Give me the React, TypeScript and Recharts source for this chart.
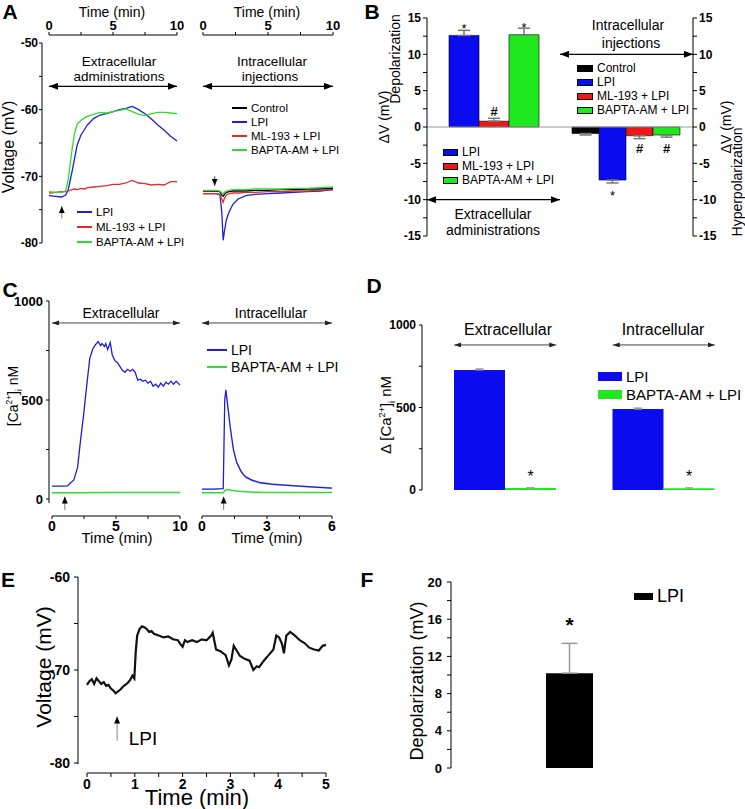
import {
  LineChart, Line, ComposedChart, Area, BarChart, Bar, ErrorBar, LabelList,
  XAxis, YAxis, ReferenceLine, Legend,
} from 'recharts'

const FONT = '"Liberation Sans", Arial, Helvetica, sans-serif'
const BLUE = '#1e1ed2'
const RED = '#e32b2b'
const GREEN = '#2fdc2f'
const BAR_BLUE = '#0b0bf0'
const BAR_RED = '#ee1616'
const BAR_GREEN = '#1fe81f'

// A: membrane potential, extracellular administration (mV vs min)
const aExtTime = [0, 0.5, 1, 1.3, 1.5, 1.8, 2, 2.2, 2.5, 2.8, 3, 3.5, 4, 4.5, 5, 5.5, 6, 6.5, 7, 7.5, 8, 8.5, 9, 9.5, 10]
const aExtLpi = [-72.9, -73.0, -73.1, -72.8, -72.0, -69.3, -67.3, -65.3, -63.8, -62.9, -62.3, -61.3, -60.8, -60.6, -60.3, -60.0, -59.8, -59.5, -60.0, -60.6, -61.4, -62.3, -63.1, -64.0, -64.7]
const aExtMl = [-72.5, -72.4, -72.3, -72.3, -72.2, -72.0, -71.9, -72.0, -71.8, -71.9, -71.7, -71.6, -71.5, -71.4, -71.2, -71.2, -71.0, -70.6, -71.0, -71.1, -71.3, -71.2, -71.3, -70.8, -70.8]
const aExtBapta = [-72.3, -72.4, -72.4, -72.2, -70.5, -66.0, -63.5, -62.2, -61.6, -61.2, -61.0, -60.7, -60.4, -60.5, -60.3, -60.1, -59.9, -60.3, -60.7, -60.9, -60.6, -60.4, -60.4, -60.5, -60.6]

// A: intracellular injection
const aIntTime = [0, 0.5, 1, 1.3, 1.45, 1.55, 1.65, 1.8, 2, 2.3, 2.7, 3.3, 4, 5, 6, 7, 8, 9, 10]
const aIntControl = [-72.2, -72.2, -72.2, -72.3, -72.8, -73.0, -72.7, -72.4, -72.3, -72.2, -72.2, -72.2, -72.1, -72.1, -72.0, -72.0, -71.9, -71.9, -71.8]
const aIntLpi = [-72.6, -72.6, -72.6, -72.7, -75.5, -79.6, -78.2, -76.5, -75.4, -74.2, -73.4, -72.9, -72.7, -72.6, -72.5, -72.4, -72.3, -72.2, -72.0]
const aIntMl = [-72.6, -72.6, -72.6, -72.8, -73.4, -73.9, -73.3, -72.8, -72.6, -72.5, -72.5, -72.4, -72.4, -72.3, -72.3, -72.2, -72.2, -72.1, -72.0]
const aIntBapta = [-72.1, -72.1, -72.1, -72.2, -72.5, -72.6, -72.4, -72.2, -72.1, -72.0, -72.0, -72.0, -71.9, -71.9, -71.9, -71.8, -71.8, -71.7, -71.6]

// B: mean voltage change (mV)
const bGroups = ['Extracellular administrations', 'Intracellular injections']
const bControl = [null, -0.9]
const bControlErr = [null, 0.2]
const bLpi = [12.6, -7.3]
const bLpiErr = [0.7, 0.4]
const bMl = [0.8, -1.2]
const bMlErr = [0.4, 0.4]
const bBapta = [12.7, -1.1]
const bBaptaErr = [0.9, 0.3]
const bLpiMark = ['*', '*']
const bMlMark = ['#', '#']
const bBaptaMark = ['*', '#']

// C: calcium (nM vs min)
const cExtTime = [0, 0.5, 1, 1.2, 1.5, 1.7, 2, 2.2, 2.45, 2.7, 2.95, 3.2, 3.4, 3.6, 3.8, 3.9, 4.1, 4.2, 4.35, 4.55, 4.7, 4.9, 5.1, 5.3, 5.5, 5.7, 5.9, 6.1, 6.3, 6.5, 6.7, 6.9, 7.1, 7.3, 7.5, 7.7, 7.9, 8.1, 8.3, 8.5, 8.7, 8.9, 9.1, 9.3, 9.5, 9.7, 9.85, 10]
const cExtLpi = [65, 65, 65, 66, 85, 95, 160, 280, 415, 565, 710, 760, 780, 795, 775, 785, 770, 785, 755, 790, 730, 700, 690, 670, 650, 640, 655, 645, 655, 640, 600, 605, 595, 600, 585, 595, 570, 580, 565, 585, 570, 590, 580, 595, 580, 595, 585, 575]
const cExtBaptaTime = [0, 2, 4, 6, 8, 10]
const cExtBapta = [32, 32, 33, 33, 33, 33]
const cIntTime = [0, 0.5, 0.98, 1.05, 1.1, 1.2, 1.3, 1.45, 1.6, 1.8, 2, 2.3, 2.7, 3.2, 3.8, 4.5, 5.2, 6]
const cIntLpi = [50, 50, 52, 500, 550, 460, 365, 250, 185, 140, 112, 95, 82, 75, 70, 65, 60, 55]
const cIntLpiSem = [2, 2, 2, 15, 20, 18, 15, 12, 10, 8, 7, 6, 5, 5, 4, 4, 4, 4]
const cIntBaptaTime = [0, 0.5, 0.98, 1.05, 1.15, 1.3, 1.6, 2, 2.5, 3, 4, 5, 6]
const cIntBapta = [32, 32, 32, 42, 48, 45, 40, 36, 34, 33, 33, 33, 33]

// D: peak calcium change (nM)
const dConds = ['Extracellular', 'Intracellular']
const dLpi = [728, 491]
const dLpiErr = [5, 5]
const dBapta = [12, 10]
const dBaptaErr = [2, 2]
const dMark = ['*', '*']

// E: single recording (mV vs min)
const eTime = [0, 0.05, 0.1, 0.15, 0.2, 0.25, 0.3, 0.35, 0.4, 0.45, 0.5, 0.55, 0.6, 0.65, 0.7, 0.75, 0.8, 0.85, 0.9, 0.95, 0.99, 1.02, 1.05, 1.1, 1.15, 1.2, 1.25, 1.3, 1.35, 1.4, 1.5, 1.6, 1.7, 1.8, 1.9, 1.95, 2, 2.05, 2.1, 2.2, 2.3, 2.4, 2.5, 2.6, 2.63, 2.7, 2.8, 2.9, 2.97, 3.02, 3.07, 3.13, 3.2, 3.3, 3.4, 3.48, 3.55, 3.6, 3.7, 3.8, 3.9, 3.96, 4.02, 4.08, 4.12, 4.17, 4.25, 4.35, 4.45, 4.55, 4.65, 4.75, 4.85, 4.93, 5]
const eVolt = [-71.6, -71.2, -71.0, -71.5, -70.9, -71.2, -71.5, -71.3, -71.7, -71.6, -72.0, -72.2, -72.5, -72.3, -72.1, -71.8, -71.6, -71.4, -71.1, -70.6, -70.9, -68.0, -66.3, -65.6, -65.3, -65.4, -65.6, -65.9, -65.8, -66.1, -66.3, -66.5, -66.4, -66.7, -66.8, -67.2, -67.5, -66.8, -67.0, -66.8, -67.0, -66.7, -66.8, -66.3, -66.0, -67.8, -68.0, -68.4, -69.5, -68.9, -67.4, -67.9, -68.5, -68.8, -69.0, -70.0, -69.6, -69.7, -69.0, -68.4, -67.8, -66.3, -66.5, -67.2, -68.2, -66.3, -65.9, -66.3, -66.8, -67.1, -67.6, -67.8, -67.9, -67.4, -67.3]

// F: mean depolarization (mV)
const fConds = ['LPI']
const fDep = [10.2]
const fErr = [3.2]
const fMark = ['*']

const errOut = (v: number | null, e: number | null) =>
  v === null || e === null ? null : v >= 0 ? [0, e] : [e, 0]

const aExtRows = aExtTime.map((t, i) => ({ t, lpi: aExtLpi[i], ml: aExtMl[i], bapta: aExtBapta[i] }))
const aIntRows = aIntTime.map((t, i) => ({ t, control: aIntControl[i], lpi: aIntLpi[i], ml: aIntMl[i], bapta: aIntBapta[i] }))
const bRows = bGroups.map((group, i) => ({
  group,
  control: bControl[i], controlErr: errOut(bControl[i], bControlErr[i]),
  lpi: bLpi[i], lpiErr: errOut(bLpi[i], bLpiErr[i]), lpiMark: bLpiMark[i],
  ml: bMl[i], mlErr: errOut(bMl[i], bMlErr[i]), mlMark: bMlMark[i],
  bapta: bBapta[i], baptaErr: errOut(bBapta[i], bBaptaErr[i]), baptaMark: bBaptaMark[i],
}))
const cExtRows = cExtTime.map((t, i) => ({ t, lpi: cExtLpi[i] }))
const cExtBaptaRows = cExtBaptaTime.map((t, i) => ({ t, bapta: cExtBapta[i] }))
const cIntRows = cIntTime.map((t, i) => ({ t, lpi: cIntLpi[i], band: [cIntLpi[i] - cIntLpiSem[i], cIntLpi[i] + cIntLpiSem[i]] }))
const cIntBaptaRows = cIntBaptaTime.map((t, i) => ({ t, bapta: cIntBapta[i] }))
const dRows = dConds.map((cond, i) => ({
  cond, lpi: dLpi[i], lpiErr: [0, dLpiErr[i]], bapta: dBapta[i], baptaErr: [0, dBaptaErr[i]], mark: dMark[i],
}))
const eRows = eTime.map((t, i) => ({ t, v: eVolt[i] }))
const fRows = fConds.map((cond, i) => ({ cond, dep: fDep[i], depErr: [0, fErr[i]], mark: fMark[i] }))

const ORDER_4 = ['Control', 'LPI', 'ML-193 + LPI', 'BAPTA-AM + LPI']

function majorOnly(step: number) {
  return (v: number) => (Math.abs(v % step) < 1e-6 ? String(v) : '')
}

function boldTick(size: number) {
  return { fontSize: size, fontWeight: 700, fill: '#000' }
}

function keyLegend(size: number, row: number, sw: number, bar?: { h: number; border?: boolean }) {
  return (props: any) => {
    const items = (props.payload || [])
      .filter((e: any) => ORDER_4.includes(e.value))
      .sort((a: any, b: any) => ORDER_4.indexOf(a.value) - ORDER_4.indexOf(b.value))
    return (
      <div style={{ fontSize: size, color: '#000', whiteSpace: 'nowrap', fontFamily: FONT }}>
        {items.map((e: any) => (
          <div key={e.value} style={{ display: 'flex', alignItems: 'center', height: row }}>
            <span style={{
              width: sw, height: bar ? bar.h : 2, background: e.color,
              border: bar && bar.border ? '1px solid #000' : 'none', boxSizing: 'border-box', marginRight: 4, flexShrink: 0,
            }} />
            <span>{e.value}</span>
          </div>
        ))}
      </div>
    )
  }
}

// double-headed arrow spread around a category centre
function bandArrow(half: number) {
  return (p: any) => (
    <line x1={p.x1 - half} y1={p.y1} x2={p.x2 + half} y2={p.y2} stroke="#444" strokeWidth={1}
      markerStart="url(#hSmall)" markerEnd="url(#hSmall)" />
  )
}

function Txt({ x, y, size = 14, bold, rot, children }: any) {
  return (
    <div style={{
      position: 'absolute', left: x, top: y, fontSize: size, fontWeight: bold ? 700 : 400, lineHeight: 1,
      whiteSpace: 'nowrap', transform: `translate(-50%, -50%)${rot ? ' rotate(-90deg)' : ''}`,
    }}>
      {children}
    </div>
  )
}

const legendPos = (left: number, top: number) => ({ left, top, width: 'auto' })

function App() {
  return (
    <div style={{ position: 'absolute', left: 0, top: 0, width: 745, height: 809, overflow: 'hidden', background: '#fff', fontFamily: FONT, color: '#000' }}>
      <svg width={0} height={0} style={{ position: 'absolute' }}>
        <defs>
          <marker id="hBig" viewBox="0 0 10 10" refX="10" refY="5" markerWidth="9" markerHeight="7" markerUnits="userSpaceOnUse" orient="auto-start-reverse" preserveAspectRatio="none">
            <path d="M0,0L10,5L0,10z" fill="#000" />
          </marker>
          <marker id="hSmall" viewBox="0 0 10 10" refX="10" refY="5" markerWidth="7" markerHeight="5" markerUnits="userSpaceOnUse" orient="auto-start-reverse" preserveAspectRatio="none">
            <path d="M0,0L10,5L0,10z" fill="#222" />
          </marker>
          <marker id="hUp" viewBox="0 0 10 10" refX="10" refY="5" markerWidth="7" markerHeight="6" markerUnits="userSpaceOnUse" orient="auto" preserveAspectRatio="none">
            <path d="M0,0L10,5L0,10z" fill="#000" />
          </marker>
        </defs>
      </svg>

      {/* A, extracellular */}
      <div style={{ position: 'absolute', left: 0, top: 0 }}>
        <LineChart width={185} height={250} data={aExtRows} margin={{ top: 5, right: 8, bottom: 7, left: 2 }}>
          <XAxis dataKey="t" type="number" orientation="top" domain={[0, 10]} ticks={[0, 2.5, 5, 7.5, 10]} interval={0}
            tickFormatter={majorOnly(5)} padding={{ left: 7, right: 0 }} height={30} stroke="#000"
            axisLine={{ stroke: '#000', strokeDasharray: '0 7 400' }} tickSize={3} tickMargin={2} tick={boldTick(13)} />
          <YAxis type="number" domain={[-80, -50]} ticks={[-80, -75, -70, -65, -60, -55, -50]} interval={0}
            tickFormatter={majorOnly(10)} padding={{ top: 8, bottom: 0 }} width={40} stroke="#000"
            axisLine={{ stroke: '#000', strokeDasharray: '0 8 400' }} tickSize={3} tickMargin={1} tick={boldTick(12)} />
          <ReferenceLine segment={[{ x: 0, y: -56.5 }, { x: 10, y: -56.5 }]} stroke="#000" strokeWidth={1.2} markerStart="url(#hBig)" markerEnd="url(#hBig)" ifOverflow="visible" />
          <ReferenceLine segment={[{ x: 1, y: -76.3 }, { x: 1, y: -74.5 }]} stroke="#777" markerEnd="url(#hUp)" ifOverflow="visible" />
          <Line dataKey="lpi" name="LPI" stroke={BLUE} strokeWidth={1.3} dot={false} isAnimationActive={false} />
          <Line dataKey="ml" name="ML-193 + LPI" stroke={RED} strokeWidth={1.3} dot={false} isAnimationActive={false} />
          <Line dataKey="bapta" name="BAPTA-AM + LPI" stroke={GREEN} strokeWidth={1.3} dot={false} isAnimationActive={false} />
          <Legend layout="vertical" align="center" verticalAlign="middle" wrapperStyle={legendPos(77, 204)} content={keyLegend(11.5, 15, 15)} />
        </LineChart>
      </div>

      {/* A, intracellular */}
      <div style={{ position: 'absolute', left: 185, top: 0 }}>
        <LineChart width={155} height={250} data={aIntRows} margin={{ top: 5, right: 7, bottom: 7, left: 18 }}>
          <XAxis dataKey="t" type="number" orientation="top" domain={[0, 10]} ticks={[0, 2.5, 5, 7.5, 10]} interval={0}
            tickFormatter={majorOnly(5)} height={30} stroke="#000" tickSize={3} tickMargin={2} tick={boldTick(13)} />
          <YAxis type="number" domain={[-80, -50]} padding={{ top: 8, bottom: 0 }} hide />
          <ReferenceLine segment={[{ x: 0, y: -56.5 }, { x: 10, y: -56.5 }]} stroke="#000" strokeWidth={1.2} markerStart="url(#hBig)" markerEnd="url(#hBig)" ifOverflow="visible" />
          <ReferenceLine segment={[{ x: 0.9, y: -70.0 }, { x: 0.9, y: -71.4 }]} stroke="#333" markerEnd="url(#hUp)" ifOverflow="visible" />
          <Line dataKey="control" name="Control" stroke="#000" strokeWidth={1.3} dot={false} isAnimationActive={false} />
          <Line dataKey="lpi" name="LPI" stroke={BLUE} strokeWidth={1.3} dot={false} isAnimationActive={false} />
          <Line dataKey="ml" name="ML-193 + LPI" stroke={RED} strokeWidth={1.3} dot={false} isAnimationActive={false} />
          <Line dataKey="bapta" name="BAPTA-AM + LPI" stroke={GREEN} strokeWidth={1.3} dot={false} isAnimationActive={false} />
          <Legend layout="vertical" align="center" verticalAlign="middle" wrapperStyle={legendPos(47, 101)} content={keyLegend(11.5, 14, 15)} />
        </LineChart>
      </div>

      {/* B, extracellular bars */}
      <div style={{ position: 'absolute', left: 380, top: 0 }}>
        <BarChart width={185} height={250} data={[bRows[0]]} margin={{ top: 18, right: 5, bottom: 14, left: 7 }} barCategoryGap={22} barGap={0}>
          <XAxis dataKey="group" hide />
          <YAxis type="number" domain={[-15, 15]} ticks={[-15, -12.5, -10, -7.5, -5, -2.5, 0, 2.5, 5, 7.5, 10, 12.5, 15]} interval={0}
            tickFormatter={majorOnly(5)} width={40} stroke="#000" tickSize={4} tickMargin={2} tick={boldTick(12)} />
          <YAxis yAxisId="sep" orientation="right" type="number" domain={[-15, 15]} width={0} tick={false} tickLine={false} axisLine={{ stroke: '#aaa' }} />
          <ReferenceLine y={0} stroke="#999" />
          <ReferenceLine y={-10} stroke="#000" strokeWidth={1.2} markerStart="url(#hBig)" markerEnd="url(#hBig)" />
          <Bar dataKey="lpi" name="LPI" fill={BAR_BLUE} stroke="#000" strokeWidth={0.6} isAnimationActive={false}>
            <ErrorBar dataKey="lpiErr" width={6} stroke="#777" />
            <LabelList dataKey="lpiMark" position="top" offset={2.5} fill="#000" fontSize={13} />
          </Bar>
          <Bar dataKey="ml" name="ML-193 + LPI" fill={BAR_RED} stroke="#000" strokeWidth={0.6} isAnimationActive={false}>
            <ErrorBar dataKey="mlErr" width={6} stroke="#777" />
            <LabelList dataKey="mlMark" position="top" offset={5.5} fill="#000" fontSize={13} fontWeight={700} />
          </Bar>
          <Bar dataKey="bapta" name="BAPTA-AM + LPI" fill={BAR_GREEN} stroke="#000" strokeWidth={0.6} isAnimationActive={false}>
            <ErrorBar dataKey="baptaErr" width={6} stroke="#777" />
            <LabelList dataKey="baptaMark" position="top" offset={3} fill="#000" fontSize={13} />
          </Bar>
          <Legend layout="vertical" align="center" verticalAlign="middle" wrapperStyle={legendPos(63, 145)} content={keyLegend(12, 14, 15, { h: 7, border: true })} />
        </BarChart>
      </div>

      {/* B, intracellular bars */}
      <div style={{ position: 'absolute', left: 555, top: 0 }}>
        <BarChart width={190} height={250} data={[bRows[1]]} margin={{ top: 18, right: 12, bottom: 14, left: 5 }} barCategoryGap={12} barGap={0}>
          <XAxis dataKey="group" hide />
          <YAxis orientation="right" type="number" domain={[-15, 15]} ticks={[-15, -12.5, -10, -7.5, -5, -2.5, 0, 2.5, 5, 7.5, 10, 12.5, 15]} interval={0}
            tickFormatter={majorOnly(5)} width={40} stroke="#000" tickSize={4} tickMargin={2} tick={boldTick(12)} />
          <ReferenceLine y={0} stroke="#999" />
          <ReferenceLine y={10} stroke="#000" strokeWidth={1.2} markerStart="url(#hBig)" markerEnd="url(#hBig)" />
          <Bar dataKey="control" name="Control" fill="#000" stroke="#000" strokeWidth={0.6} isAnimationActive={false}>
            <ErrorBar dataKey="controlErr" width={6} stroke="#777" />
          </Bar>
          <Bar dataKey="lpi" name="LPI" fill={BAR_BLUE} stroke="#000" strokeWidth={0.6} isAnimationActive={false}>
            <ErrorBar dataKey="lpiErr" width={6} stroke="#777" />
            <LabelList dataKey="lpiMark" position="top" offset={11} fill="#000" fontSize={13} />
          </Bar>
          <Bar dataKey="ml" name="ML-193 + LPI" fill={BAR_RED} stroke="#000" strokeWidth={0.6} isAnimationActive={false}>
            <ErrorBar dataKey="mlErr" width={6} stroke="#777" />
            <LabelList dataKey="mlMark" position="top" offset={8.5} fill="#000" fontSize={13} fontWeight={700} />
          </Bar>
          <Bar dataKey="bapta" name="BAPTA-AM + LPI" fill={BAR_GREEN} stroke="#000" strokeWidth={0.6} isAnimationActive={false}>
            <ErrorBar dataKey="baptaErr" width={6} stroke="#777" />
            <LabelList dataKey="baptaMark" position="top" offset={9} fill="#000" fontSize={13} fontWeight={700} />
          </Bar>
          <Legend layout="vertical" align="center" verticalAlign="middle" wrapperStyle={legendPos(22, 61)} content={keyLegend(12, 14, 16, { h: 7, border: true })} />
        </BarChart>
      </div>

      {/* C, extracellular */}
      <div style={{ position: 'absolute', left: 0, top: 290 }}>
        <LineChart width={190} height={260} data={cExtRows} margin={{ top: 11, right: 10, bottom: 4, left: 9 }}>
          <XAxis dataKey="t" type="number" domain={[0, 10]} ticks={[0, 2.5, 5, 7.5, 10]} interval={0}
            tickFormatter={majorOnly(5)} padding={{ left: 3, right: 0 }} height={30} stroke="#000"
            axisLine={{ stroke: '#000', strokeDasharray: '0 3 400' }} tickSize={3} tickMargin={2} tick={boldTick(14)} />
          <YAxis type="number" domain={[0, 1000]} ticks={[0, 250, 500, 750, 1000]} interval={0}
            tickFormatter={majorOnly(500)} padding={{ top: 0, bottom: 17 }} width={40} stroke="#000"
            axisLine={{ stroke: '#000', strokeDasharray: '202 400' }} tickSize={3} tickMargin={3} tick={boldTick(13)} />
          <ReferenceLine segment={[{ x: 0, y: 889 }, { x: 10, y: 889 }]} stroke="#444" markerStart="url(#hSmall)" markerEnd="url(#hSmall)" ifOverflow="visible" />
          <ReferenceLine segment={[{ x: 1, y: -55 }, { x: 1, y: 12 }]} stroke="#777" markerEnd="url(#hUp)" ifOverflow="visible" />
          <Line dataKey="lpi" name="LPI" stroke={BLUE} strokeWidth={1.3} dot={false} isAnimationActive={false} />
          <Line data={cExtBaptaRows} dataKey="bapta" name="BAPTA-AM + LPI" stroke={GREEN} strokeWidth={1.5} dot={false} isAnimationActive={false} />
        </LineChart>
      </div>

      {/* C, intracellular */}
      <div style={{ position: 'absolute', left: 190, top: 290 }}>
        <ComposedChart width={160} height={260} data={cIntRows} margin={{ top: 11, right: 18, bottom: 4, left: 12 }}>
          <XAxis dataKey="t" type="number" domain={[0, 6]} ticks={[0, 1.5, 3, 4.5, 6]} interval={0}
            tickFormatter={majorOnly(3)} height={30} stroke="#000" tickSize={3} tickMargin={2} tick={boldTick(14)} />
          <YAxis type="number" domain={[0, 1000]} padding={{ top: 0, bottom: 17 }} hide />
          <ReferenceLine segment={[{ x: 0, y: 889 }, { x: 6, y: 889 }]} stroke="#444" markerStart="url(#hSmall)" markerEnd="url(#hSmall)" ifOverflow="visible" />
          <ReferenceLine segment={[{ x: 1, y: -55 }, { x: 1, y: 12 }]} stroke="#777" markerEnd="url(#hUp)" ifOverflow="visible" />
          <Area dataKey="band" stroke="none" fill="#9aa6f2" fillOpacity={0.7} legendType="none" isAnimationActive={false} />
          <Line dataKey="lpi" name="LPI" stroke={BLUE} strokeWidth={1.3} dot={false} isAnimationActive={false} />
          <Line data={cIntBaptaRows} dataKey="bapta" name="BAPTA-AM + LPI" stroke={GREEN} strokeWidth={1.5} dot={false} isAnimationActive={false} />
          <Legend layout="vertical" align="center" verticalAlign="middle" wrapperStyle={legendPos(17, 51)} content={keyLegend(14, 17, 20)} />
        </ComposedChart>
      </div>

      {/* D */}
      <div style={{ position: 'absolute', left: 380, top: 300 }}>
        <BarChart width={365} height={230} data={dRows} margin={{ top: 25, right: 2, bottom: 40, left: 2 }} barCategoryGap={28} barGap={0}>
          <XAxis dataKey="cond" height={0} tick={false} tickLine={false} stroke="#000" padding={{ left: 4, right: 0 }} />
          <YAxis type="number" domain={[0, 1000]} ticks={[0, 250, 500, 750, 1000]} interval={0}
            tickFormatter={majorOnly(500)} width={40} stroke="#000" tickSize={3} tickMargin={3} tick={boldTick(12)} />
          <ReferenceLine segment={[{ x: dConds[0], y: 879 }, { x: dConds[0], y: 879 }]} shape={bandArrow(51)} ifOverflow="visible" />
          <ReferenceLine segment={[{ x: dConds[1], y: 879 }, { x: dConds[1], y: 879 }]} shape={bandArrow(51)} ifOverflow="visible" />
          <Bar dataKey="lpi" name="LPI" fill={BAR_BLUE} isAnimationActive={false}>
            <ErrorBar dataKey="lpiErr" width={4} stroke="#99a" />
          </Bar>
          <Bar dataKey="bapta" name="BAPTA-AM + LPI" fill={BAR_GREEN} isAnimationActive={false}>
            <ErrorBar dataKey="baptaErr" width={4} stroke="#9a9" />
            <LabelList dataKey="mark" position="top" offset={6} fill="#000" fontSize={16} />
          </Bar>
          <Legend layout="vertical" align="center" verticalAlign="middle" wrapperStyle={legendPos(218, 67)} content={keyLegend(15, 18, 24, { h: 9 })} />
        </BarChart>
      </div>

      {/* E */}
      <div style={{ position: 'absolute', left: 0, top: 560 }}>
        <LineChart width={340} height={249} data={eRows} margin={{ top: 17, right: 14, bottom: 6, left: 33 }}>
          <XAxis dataKey="t" type="number" domain={[0, 5]} ticks={[0, 0.5, 1, 1.5, 2, 2.5, 3, 3.5, 4, 4.5, 5]} interval={0}
            tickFormatter={majorOnly(1)} padding={{ left: 9, right: 0 }} height={30} stroke="#000"
            axisLine={{ stroke: '#000', strokeDasharray: '0 9 400' }} tickSize={4} tickMargin={2} tick={boldTick(14)} />
          <YAxis type="number" domain={[-80, -60]} ticks={[-80, -75, -70, -65, -60]} interval={0}
            tickFormatter={majorOnly(10)} padding={{ top: 0, bottom: 10 }} width={45} stroke="#000"
            axisLine={{ stroke: '#000', strokeDasharray: '187 400' }} tickSize={4} tickMargin={4} tick={boldTick(14)} />
          <ReferenceLine segment={[{ x: 0.63, y: -77.6 }, { x: 0.63, y: -75.0 }]} stroke="#888" markerEnd="url(#hUp)" ifOverflow="visible" />
          <Line dataKey="v" name="LPI" stroke="#111" strokeWidth={2.2} dot={false} isAnimationActive={false} />
        </LineChart>
      </div>

      {/* F */}
      <div style={{ position: 'absolute', left: 380, top: 560 }}>
        <BarChart width={365} height={249} data={fRows} margin={{ top: 22, right: 57, bottom: 41, left: 31 }}>
          <XAxis dataKey="cond" height={0} tick={false} tickLine={false} stroke="#000" />
          <YAxis type="number" domain={[0, 20]} ticks={[0, 2, 4, 6, 8, 10, 12, 14, 16, 18, 20]} interval={0}
            tickFormatter={majorOnly(4)} width={40} stroke="#000" tickSize={4} tickMargin={5} tick={boldTick(13)} />
          <Bar dataKey="dep" name="LPI" fill="#000" barSize={47} isAnimationActive={false}>
            <ErrorBar dataKey="depErr" width={8} stroke="#999" />
            <LabelList dataKey="mark" position="top" offset={41} fill="#000" fontSize={21} fontWeight={700} />
          </Bar>
          <Legend layout="vertical" align="center" verticalAlign="middle" wrapperStyle={legendPos(254, 26)} content={keyLegend(18, 20, 19, { h: 7 })} />
        </BarChart>
      </div>

      {/* panel letters */}
      <Txt x={10} y={11} size={21} bold>A</Txt>
      <Txt x={372} y={11} size={21} bold>B</Txt>
      <Txt x={10} y={289} size={21} bold>C</Txt>
      <Txt x={374} y={285} size={21} bold>D</Txt>
      <Txt x={8} y={579} size={21} bold>E</Txt>
      <Txt x={367} y={579} size={21} bold>F</Txt>

      {/* A texts */}
      <Txt x={112} y={12}>Time (min)</Txt>
      <Txt x={267} y={12}>Time (min)</Txt>
      <Txt x={9} y={147} size={16} rot>Voltage (mV)</Txt>
      <Txt x={119} y={62} size={13.5}>Extracellular</Txt>
      <Txt x={119} y={77} size={13.5}>administrations</Txt>
      <Txt x={272} y={62} size={13.5}>Intracellular</Txt>
      <Txt x={270} y={77} size={13.5}>injections</Txt>

      {/* B texts */}
      <Txt x={395} y={59} size={14} rot>Depolarization</Txt>
      <Txt x={384} y={117} size={14} rot>ΔV (mV)</Txt>
      <Txt x={726} y={127} size={14} rot>ΔV (mV)</Txt>
      <Txt x={737} y={182} size={14} rot>Hyperpolarization</Txt>
      <Txt x={628} y={25} size={14}>Intracellular</Txt>
      <Txt x={631} y={43} size={14}>injections</Txt>
      <Txt x={493} y={214} size={14}>Extracellular</Txt>
      <Txt x={493} y={230} size={14}>administrations</Txt>

      {/* C texts */}
      <Txt x={14} y={396} size={14} rot>[Ca<sup style={{ fontSize: '0.6em' }}>2+</sup>]<sub style={{ fontSize: '0.6em' }}>i</sub> nM</Txt>
      <Txt x={121} y={313} size={14}>Extracellular</Txt>
      <Txt x={271} y={313} size={14}>Intracellular</Txt>
      <Txt x={117} y={537} size={15}>Time (min)</Txt>
      <Txt x={267} y={537} size={15}>Time (min)</Txt>

      {/* D texts */}
      <Txt x={387} y={415} size={15} rot>Δ [Ca<sup style={{ fontSize: '0.6em' }}>2+</sup>]<sub style={{ fontSize: '0.6em' }}>i</sub> nM</Txt>
      <Txt x={508} y={330} size={16}>Extracellular</Txt>
      <Txt x={663} y={330} size={16}>Intracellular</Txt>

      {/* E texts */}
      <Txt x={43} y={667} size={21} rot>Voltage (mV)</Txt>
      <Txt x={197} y={798} size={22}>Time (min)</Txt>
      <Txt x={143} y={738} size={19}>LPI</Txt>

      {/* F texts */}
      <Txt x={417} y={681} size={18} rot>Depolarization (mV)</Txt>
    </div>
  )
}

export default App
